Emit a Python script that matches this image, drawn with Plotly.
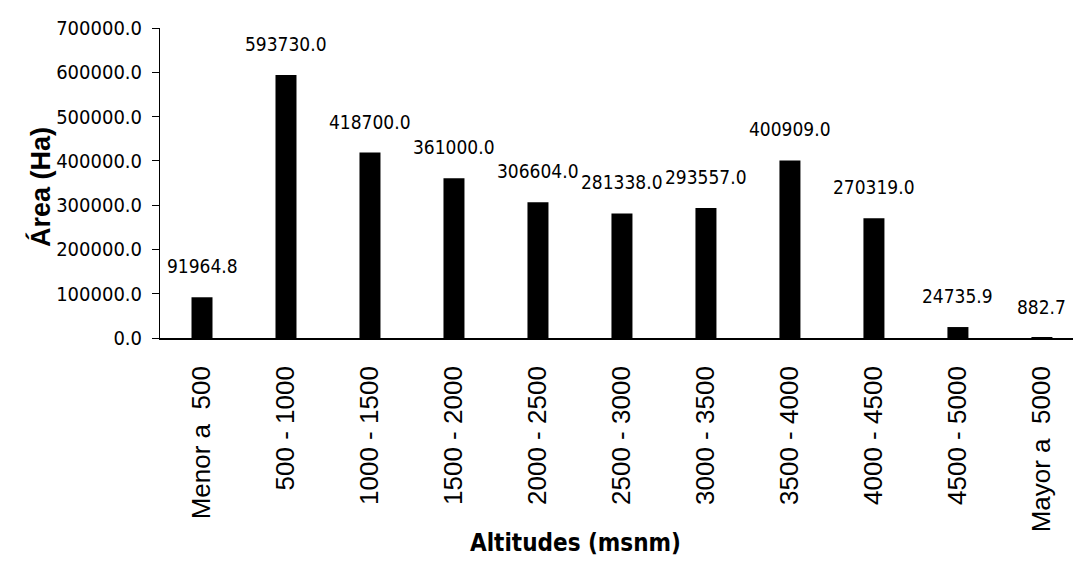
import plotly.graph_objects as go

categorias = ["Menor a  500", "500 - 1000", "1000 - 1500", "1500 - 2000", "2000 - 2500",
              "2500 - 3000", "3000 - 3500", "3500 - 4000", "4000 - 4500", "4500 - 5000",
              "Mayor a  5000"]
area_ha = [91964.8, 593730.0, 418700.0, 361000.0, 306604.0, 281338.0, 293557.0,
           400909.0, 270319.0, 24735.9, 882.7]
y_ticks = [0, 100000, 200000, 300000, 400000, 500000, 600000, 700000]

narrow = "Liberation Sans Narrow, DejaVu Sans Condensed, Arial Narrow, sans-serif"
regular = "Liberation Sans, Arial, sans-serif"

W, H = 1073, 562
ML, MR, MT, MB = 160, 0, 28, 224
PW, PH = W - ML - MR, H - MT - MB

fig = go.Figure()
fig.add_trace(go.Bar(
    x=list(range(len(categorias))), y=area_ha,
    marker=dict(color="black", line=dict(width=0)),
    width=0.25,
))

# value labels above each bar
for i, v in enumerate(area_ha):
    fig.add_annotation(x=i, y=v, text=f"{v:.1f}", showarrow=False,
                       yanchor="bottom", yshift=18,
                       font=dict(family=narrow, size=19, color="black"))

# axis titles
fig.add_annotation(xref="paper", yref="paper", x=(575 - ML) / PW, y=0,
                   yshift=-(543 - (H - MB)), text="<b>Altitudes (msnm)</b>",
                   showarrow=False, yanchor="middle",
                   font=dict(family=narrow, size=24, color="black"))
fig.add_annotation(xref="paper", yref="paper", x=0, xshift=-(ML - 40),
                   y=(H - MB - 187) / PH, text="<b>Área (Ha)</b>",
                   textangle=-90, showarrow=False, xanchor="center",
                   font=dict(family=regular, size=27, color="black"))

fig.update_layout(
    width=W, height=H,
    margin=dict(l=ML, r=MR, t=MT, b=MB),
    paper_bgcolor="white", plot_bgcolor="white",
    showlegend=False,
    xaxis=dict(
        tickmode="array", tickvals=list(range(len(categorias))), ticktext=categorias,
        tickangle=-90, range=[-0.5, 10.37],
        showline=True, linecolor="black", linewidth=1.5,
        ticks="", showgrid=False, zeroline=False,
        ticklabelstandoff=16,
        tickfont=dict(family=regular, size=26, color="black"),
    ),
    yaxis=dict(
        range=[0, 700000], tickvals=y_ticks,
        ticktext=[f"{v:.1f}" for v in y_ticks],
        showline=True, linecolor="black", linewidth=1,
        ticks="outside", ticklen=7, tickcolor="black",
        ticklabelstandoff=6,
        showgrid=False, zeroline=False,
        tickfont=dict(family=narrow, size=20, color="black"),
    ),
)

fig.write_html("out.html")
